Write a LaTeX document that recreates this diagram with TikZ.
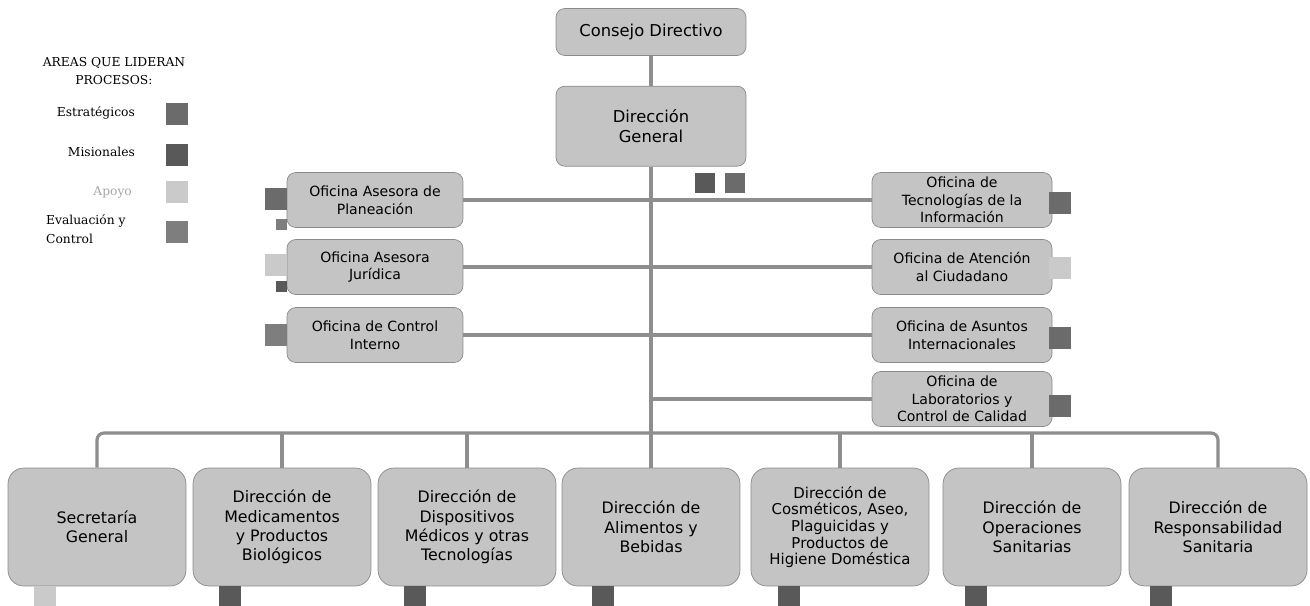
\documentclass[tikz,border=0pt]{standalone}
\usepackage{fontspec}
\setmainfont{DejaVu Sans}
\newfontfamily\legendfont{DejaVu Serif}
\usetikzlibrary{positioning}
\definecolor{BoxGray}{HTML}{C4C4C4}
\definecolor{EdgeGray}{HTML}{8A8A8A}
\definecolor{LineGray}{HTML}{8E8E8E}
\definecolor{Estrategico}{HTML}{6B6B6B}
\definecolor{Misional}{HTML}{595959}
\definecolor{Apoyo}{HTML}{CACACA}
\definecolor{Evaluacion}{HTML}{7E7E7E}

\begin{document}
\begin{tikzpicture}[x=0.02cm, y=-0.02cm,
  orgline/.style={draw=LineGray, line width=1.8pt},
  topbox/.style={draw=EdgeGray, fill=BoxGray, rounded corners=5pt,
    minimum width=3.8cm, align=center, inner sep=2pt, font=\fontsize{9.3}{11}\selectfont},
  officebox/.style={draw=EdgeGray, fill=BoxGray, rounded corners=5pt,
    minimum width=3.52cm, minimum height=1.1cm, align=center, inner sep=2pt,
    font=\fontsize{8}{10}\selectfont},
  areabox/.style={draw=EdgeGray, fill=BoxGray, rounded corners=9pt,
    minimum width=3.56cm, minimum height=2.36cm, align=center, inner sep=2pt,
    font=\fontsize{9}{11}\selectfont},
  procsq/.style={fill=#1, draw=none, minimum size=0.44cm, inner sep=0pt},
  legendtext/.style={font=\legendfont\fontsize{7}{10.5}\selectfont, inner sep=1pt}
]
\useasboundingbox (0,0) rectangle (1310,605);

% legend
\node[legendtext, align=center] (leyenda) at (114,71) {AREAS QUE LIDERAN\\PROCESOS:};
\node[legendtext, anchor=east] (estrat-txt) at (137,113) {Estratégicos};
\node[legendtext, anchor=east] (mision-txt) at (137,152) {Misionales};
\node[legendtext, anchor=east, text=black!35] (apoyo-txt) at (134,192) {Apoyo};
\node[legendtext, anchor=west, align=left] (eval-txt) at (44,229) {Evaluación y\\Control};
\node[procsq=Estrategico] (estrat-sq) at (177,114) {};
\node[procsq=Misional] (mision-sq) at (177,155) {};
\node[procsq=Apoyo] (apoyo-sq) at (177,192) {};
\node[procsq=Evaluacion] (eval-sq) at (177,232) {};

% top of the chart
\node[topbox, minimum height=0.94cm] (consejo) at (651,32) {Consejo Directivo};
\node[topbox, minimum height=1.6cm, below=0.6cm of consejo] (dirgen) {Dirección\\General};
\node[procsq=Misional, minimum size=0.4cm] (dirgen-sq1) at (705,183) {};
\node[procsq=Estrategico, minimum size=0.4cm] (dirgen-sq2) at (735,183) {};

% offices
\node[officebox] (planeacion) at (375,200) {Oficina Asesora de\\Planeación};
\node[officebox] (juridica) at (375,267) {Oficina Asesora\\Jurídica};
\node[officebox] (control) at (375,335) {Oficina de Control\\Interno};
\node[officebox, minimum width=3.6cm] (tecnologias) at (962,200) {Oficina de\\Tecnologías de la\\Información};
\node[officebox, minimum width=3.6cm] (atencion) at (962,267) {Oficina de Atención\\al Ciudadano};
\node[officebox, minimum width=3.6cm] (asuntos) at (962,335) {Oficina de Asuntos\\Internacionales};
\node[officebox, minimum width=3.6cm] (laboratorios) at (962,399) {Oficina de\\Laboratorios y\\Control de Calidad};

\node[procsq=Estrategico] (planeacion-sq) at (276,199) {};
\node[procsq=Evaluacion, minimum size=0.22cm] (planeacion-sq2) at (281,224) {};
\node[procsq=Apoyo] (juridica-sq) at (276,265) {};
\node[procsq=Misional, minimum size=0.22cm] (juridica-sq2) at (281,286) {};
\node[procsq=Evaluacion] (control-sq) at (276,335) {};
\node[procsq=Estrategico] (tecnologias-sq) at (1060,203) {};
\node[procsq=Apoyo] (atencion-sq) at (1060,268) {};
\node[procsq=Estrategico] (asuntos-sq) at (1060,338) {};
\node[procsq=Estrategico] (laboratorios-sq) at (1060,406) {};

% directions
\node[areabox] (secretaria) at (97,527) {Secretaría\\General};
\node[areabox] (medicamentos) at (282,527) {Dirección de\\Medicamentos\\y Productos\\Biológicos};
\node[areabox] (dispositivos) at (467,527) {Dirección de\\Dispositivos\\Médicos y otras\\Tecnologías};
\node[areabox] (alimentos) at (651,527) {Dirección de\\Alimentos y\\Bebidas};
\node[areabox, font=\fontsize{8.5}{9.5}\selectfont] (cosmeticos) at (840,527) {Dirección de\\Cosméticos, Aseo,\\Plaguicidas y\\Productos de\\Higiene Doméstica};
\node[areabox] (operaciones) at (1032,527) {Dirección de\\Operaciones\\Sanitarias};
\node[areabox] (responsabilidad) at (1218,527) {Dirección de\\Responsabilidad\\Sanitaria};

\node[procsq=Apoyo] (secretaria-sq) at (45,597) {};
\node[procsq=Misional] (medicamentos-sq) at (230,597) {};
\node[procsq=Misional] (dispositivos-sq) at (415,597) {};
\node[procsq=Misional] (alimentos-sq) at (603,597) {};
\node[procsq=Misional] (cosmeticos-sq) at (789,597) {};
\node[procsq=Misional] (operaciones-sq) at (976,597) {};
\node[procsq=Misional] (responsabilidad-sq) at (1161,597) {};

% connectors
\coordinate (bus) at (651,433);
\draw[orgline] (consejo) -- (dirgen);
\draw[orgline] (dirgen) -- (alimentos);
\draw[orgline] (planeacion) -- (tecnologias);
\draw[orgline] (juridica) -- (atencion);
\draw[orgline] (control) -- (asuntos);
\draw[orgline] (laboratorios.west) -- (laboratorios.west -| dirgen.south);
\draw[orgline, rounded corners=4pt] (secretaria.north) |- (bus) -| (responsabilidad.north);
\draw[orgline] (medicamentos.north) -- (medicamentos.north |- bus);
\draw[orgline] (dispositivos.north) -- (dispositivos.north |- bus);
\draw[orgline] (cosmeticos.north) -- (cosmeticos.north |- bus);
\draw[orgline] (operaciones.north) -- (operaciones.north |- bus);
\end{tikzpicture}
\end{document}
